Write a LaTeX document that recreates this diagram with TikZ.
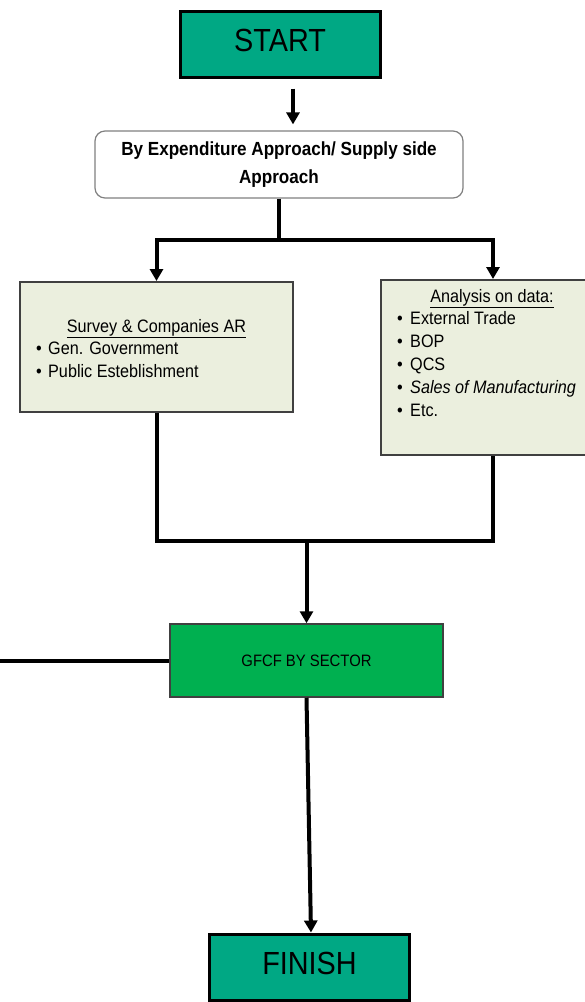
\documentclass[tikz,border=0pt]{standalone}
\usepackage{fontspec}
\setmainfont[FakeStretch=0.9]{Liberation Sans}
\usetikzlibrary{arrows.meta}
\definecolor{startgreen}{RGB}{0,168,132}
\definecolor{sectorgreen}{RGB}{0,176,80}
\definecolor{beige}{RGB}{235,239,222}
\definecolor{boxedge}{RGB}{64,64,64}
\begin{document}
\begin{tikzpicture}[x=1pt,y=-1pt,
  termbox/.style={draw=black,line width=3pt,fill=startgreen,minimum width=200pt,minimum height=66pt,inner sep=0pt,text depth=7pt,font=\fontsize{32}{38}\selectfont},
  apprbox/.style={draw=gray,line width=1.2pt,rounded corners=10pt,fill=white,minimum width=368pt,minimum height=67pt,inner sep=0pt},
  databox/.style={draw=boxedge,line width=2pt,fill=beige,inner sep=0pt},
  sectorbox/.style={draw=boxedge,line width=1.5pt,fill=sectorgreen,minimum width=273pt,minimum height=73pt,inner sep=0pt,font=\fontsize{16.5}{20}\selectfont},
  conn/.style={line width=4pt,draw=black},
  arr/.style={conn,-{Triangle[length=12pt,width=13pt]}},
  txt/.style={inner sep=0pt,font=\fontsize{18}{22}\selectfont}]
\useasboundingbox (0,0) rectangle (585,1002);
\clip (0,0) rectangle (585,1002);
% boxes
\node[termbox] (start) at (280,44) {START};
\node[apprbox] (appr) at (279,164.5) {};
\node[inner sep=0pt,align=center,font=\bfseries\fontsize{19}{28.5}\selectfont] (apprtext) at (279,164.5) {By Expenditure Approach/ Supply side\\Approach};
\node[databox,minimum width=273pt,minimum height=130pt] (left) at (156.5,347) {};
\node[databox,minimum width=224pt,minimum height=175pt] (right) at (493,367.5) {};
\node[sectorbox] (sector) at (306.5,660.5) {GFCF BY SECTOR};
\node[termbox] (finish) at (309.5,967) {FINISH};
% left box text
\node[txt,anchor=base] (lh) at (156.5,332) {\underline{Survey \& Companies AR}};
\node[txt,anchor=base west] (l1) at (36,354) {\makebox[12pt][l]{\textbullet}Gen. Government};
\node[txt,anchor=base west] (l2) at (36,377) {\makebox[12pt][l]{\textbullet}Public Esteblishment};
% right box text
\node[txt,anchor=base] (rh) at (492,302) {\underline{Analysis on data:}};
\node[txt,anchor=base west] (r1) at (397,324) {\makebox[13pt][l]{\textbullet}External Trade};
\node[txt,anchor=base west] (r2) at (397,347) {\makebox[13pt][l]{\textbullet}BOP};
\node[txt,anchor=base west] (r3) at (397,370) {\makebox[13pt][l]{\textbullet}QCS};
\node[txt,anchor=base west] (r4) at (397,393) {\makebox[13pt][l]{\textbullet}\textit{Sales of Manufacturing}};
\node[txt,anchor=base west] (r5) at (397,416) {\makebox[13pt][l]{\textbullet}Etc.};
% connectors
\draw[arr] ([xshift=13pt,yshift=-10pt]start.south) -- ([xshift=14pt,yshift=6pt]appr.north);
\coordinate (split) at (279,240);
\draw[conn] (appr.south) -- (split);
\draw[arr] (split) -| (left.north);
\draw[arr] (split) -| (right.north);
\coordinate (join) at (306.5,541);
\draw[conn] (left.south) |- (join) -| (right.south);
\draw[arr] (join) -- (sector.north);
\coordinate (inlet) at (-5,660.5);
\draw[conn] (inlet) -- (sector.west);
\draw[arr] (sector.south) -- ([xshift=1.5pt]finish.north);
\end{tikzpicture}
\end{document}
